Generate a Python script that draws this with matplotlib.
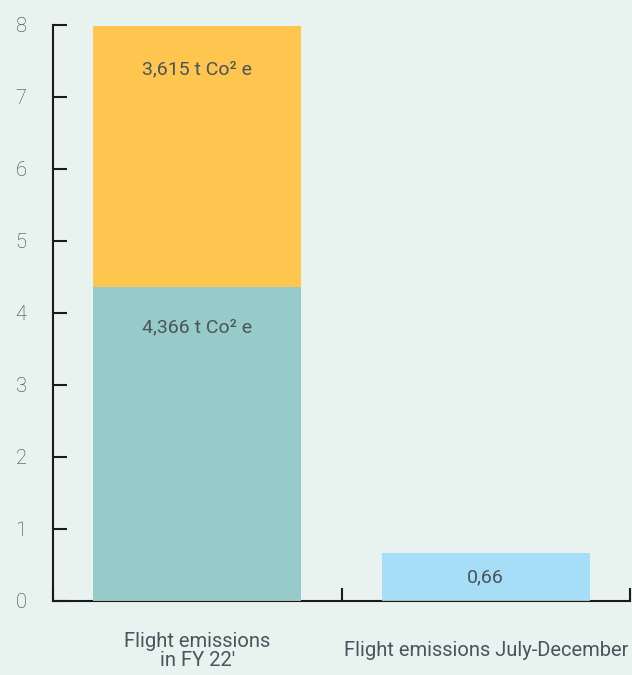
import matplotlib.pyplot as plt
import numpy as np

# data
categories = ["Flight emissions\nin FY 22'", "Flight emissions July-December"]
lower_vals = [4.366, 0.66]
upper_vals = [3.615, 0]
lower_labels = ["4,366 t Co\u00b2 e", "0,66"]
upper_labels = ["3,615 t Co\u00b2 e", ""]
y_ticks = [0, 1, 2, 3, 4, 5, 6, 7, 8]

bg = "#e8f2ee"
c_teal = "#97cbca"
c_yellow = "#fec54f"
c_blue = "#a6ddf7"
txt = "#4b535c"

plt.rcParams["font.family"] = ["Roboto", "DejaVu Sans"]

fig = plt.figure(figsize=(6.32, 6.75), dpi=100, facecolor=bg)
ax = fig.add_axes([53 / 632, 74 / 675, 577 / 632, 576 / 675])
ax.set_facecolor(bg)

x = np.arange(len(categories))
w = 0.72
low_colors = [c_teal, c_blue]
ax.bar(x, lower_vals, width=w, color=low_colors, zorder=3,
       edgecolor="none")
ax.bar(x, upper_vals, width=w, bottom=lower_vals, color=c_yellow, zorder=3,
       edgecolor="none")
# thin grey base line under the bars
for xi in x:
    ax.plot([xi - w / 2, xi + w / 2], [0, 0], color="#b0b0b0", lw=1.2,
            zorder=4, solid_capstyle="butt")

# bar labels
fs_bar = 14
for i in range(len(categories)):
    if upper_vals[i] > 0:
        top = lower_vals[i] + upper_vals[i]
        ax.annotate(upper_labels[i], (x[i], top), xytext=(0, -43),
                    textcoords="offset pixels", ha="center", va="center",
                    fontsize=fs_bar, color=txt, zorder=5)
        ax.annotate(lower_labels[i], (x[i], lower_vals[i]), xytext=(0, -41),
                    textcoords="offset pixels", ha="center", va="center",
                    fontsize=fs_bar, color=txt, zorder=5)
    else:
        ax.text(x[i], lower_vals[i] / 2, lower_labels[i], ha="center",
                va="center", fontsize=fs_bar, color=txt, zorder=5)

ax.set_xlim(-0.5, len(categories) - 0.5)
ax.set_ylim(0, 8)

for s in ["top", "right"]:
    ax.spines[s].set_visible(False)
for s in ["left", "bottom"]:
    ax.spines[s].set_linewidth(1.5)
    ax.spines[s].set_color("#1a1a1a")
    ax.spines[s].set_zorder(2)

ax.set_yticks(y_ticks)
ax.set_yticklabels([str(v) for v in y_ticks], fontsize=14.5, color="#3c3c3c",
                   fontweight="light")
ax.tick_params(axis="y", direction="in", length=10, width=1.5, color="#1a1a1a",
               pad=19)

# category boundaries as ticks
ax.set_xticks(np.arange(-0.5, len(categories), 1.0))
ax.set_xticklabels([])
ax.tick_params(axis="x", direction="in", length=9.5, width=1.5, color="#1a1a1a")
for xi, lab in zip(x, categories):
    ax.annotate(lab, (xi, 0), xytext=(0, -50), textcoords="offset pixels",
                ha="center", va="center", fontsize=14.5, color=txt,
                linespacing=0.95, annotation_clip=False)

fig.savefig("out.png", dpi=100, facecolor=bg)
